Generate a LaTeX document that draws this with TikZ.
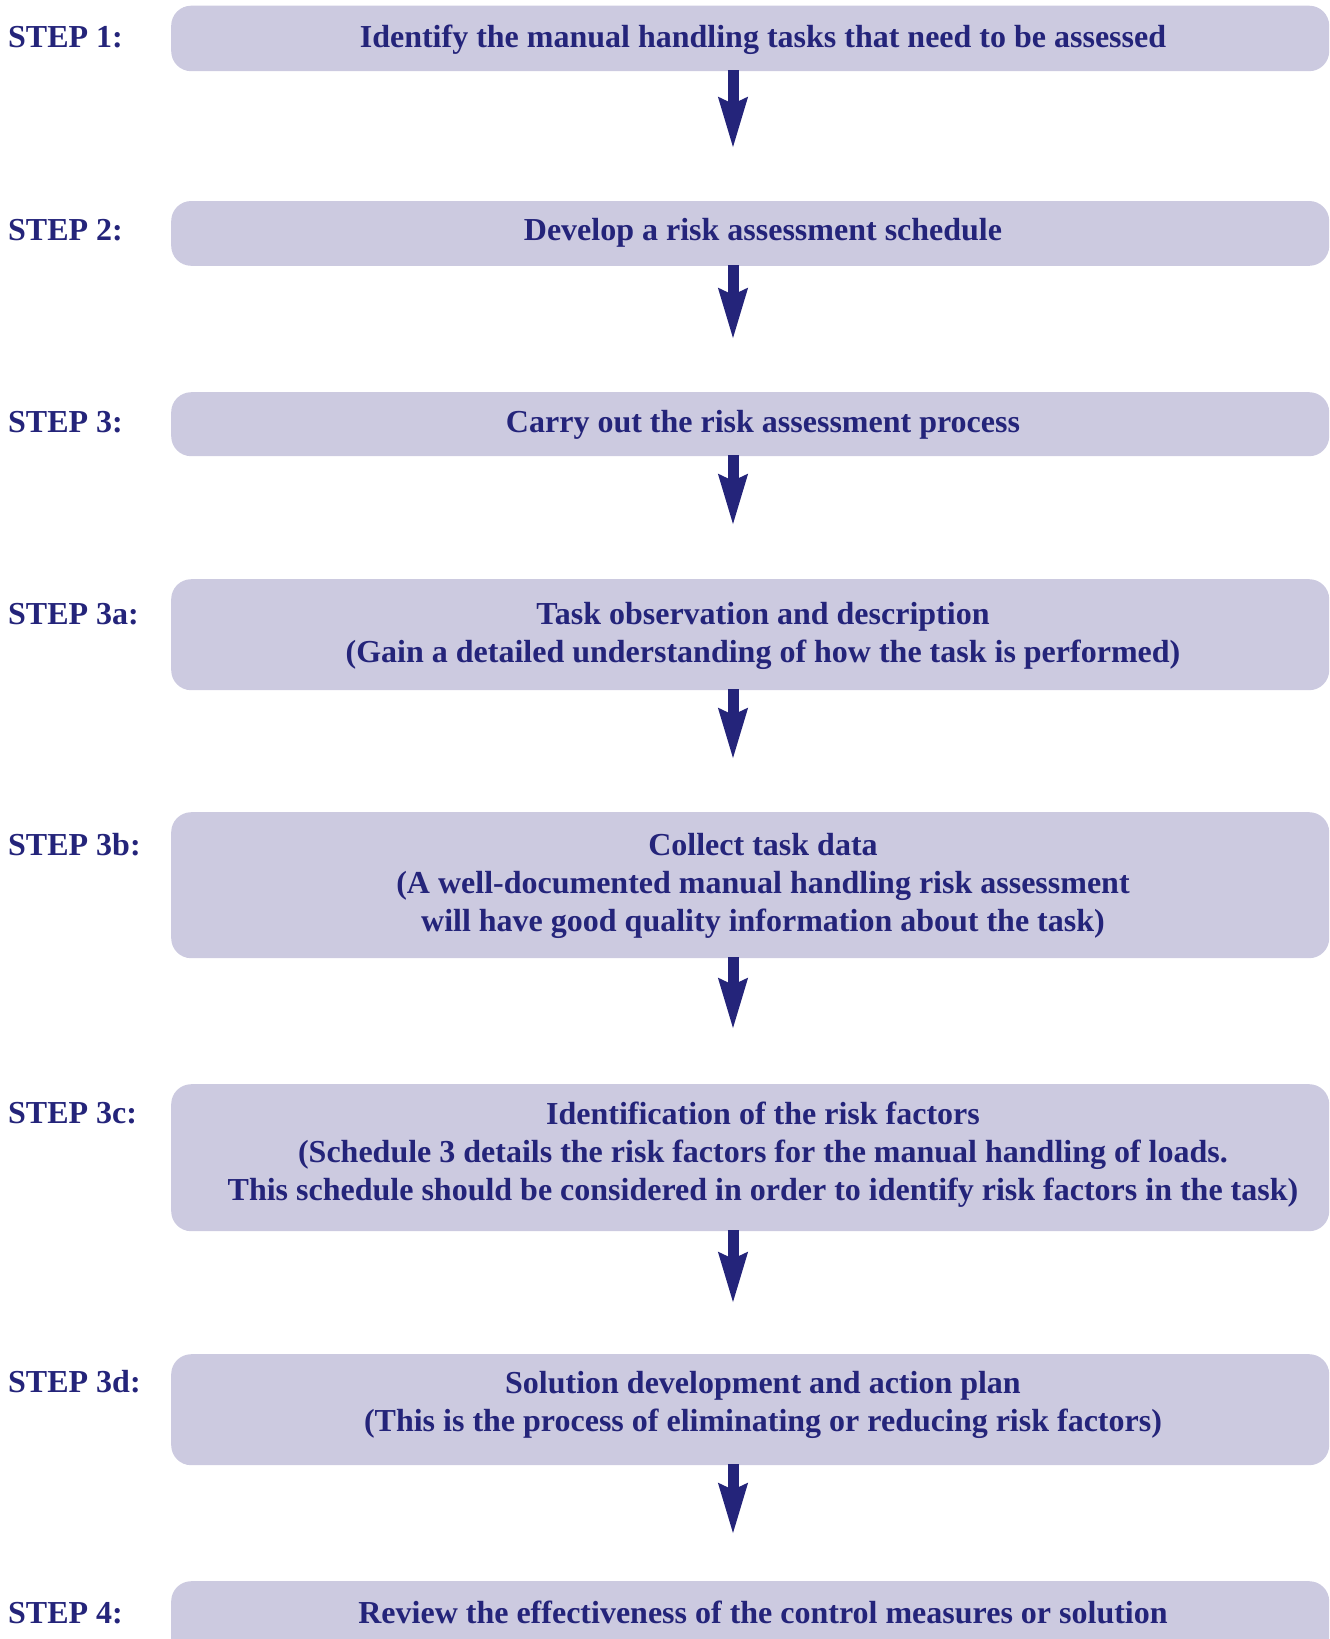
\documentclass[tikz,border=0pt]{standalone}
\usepackage{fontspec}
\setmainfont{Liberation Serif}
\usetikzlibrary{arrows.meta}
\definecolor{navy}{RGB}{36,36,122}
\definecolor{boxfill}{RGB}{204,202,224}
\tikzset{
  stepbox/.style={fill=boxfill, draw=none, rounded corners=20pt, minimum width=1158pt, inner sep=0pt, anchor=north west},
  steplabel/.style={anchor=base west, inner sep=0pt, text=navy, font=\fontsize{32}{38}\selectfont\bfseries},
  steptext/.style={anchor=base, inner sep=0pt, align=center, text=navy, font=\fontsize{32}{38}\selectfont\bfseries},
  flowarrow/.style={draw=navy, line width=11pt, -{Stealth[length=50pt, width=27pt, inset=5pt]}, shorten <=-1pt}
}
\begin{document}
\begin{tikzpicture}[x=1pt, y=-1pt]
\useasboundingbox (0,0) rectangle (1330,1639);
\clip (0,0) rectangle (1330,1639);
% boxes
\node[stepbox, minimum height=65.5pt] (b1) at (171,5.5) {};
\node[stepbox, minimum height=64.8pt] (b2) at (171,200.8) {};
\node[stepbox, minimum height=64pt] (b3) at (171,392) {};
\node[stepbox, minimum height=111pt] (b3a) at (171,579) {};
\node[stepbox, minimum height=146pt] (b3b) at (171,812) {};
\node[stepbox, minimum height=147pt] (b3c) at (171,1084) {};
\node[stepbox, minimum height=111pt] (b3d) at (171,1354) {};
\node[stepbox, minimum height=110pt] (b4) at (171,1581) {};
% labels
\node[steplabel] (l1) at (8,47) {STEP 1:};
\node[steplabel] (l2) at (8,240) {STEP 2:};
\node[steplabel] (l3) at (8,432) {STEP 3:};
\node[steplabel] (l3a) at (8,624) {STEP 3a:};
\node[steplabel] (l3b) at (8,855) {STEP 3b:};
\node[steplabel] (l3c) at (8,1123.5) {STEP 3c:};
\node[steplabel] (l3d) at (8,1392) {STEP 3d:};
\node[steplabel] (l4) at (8,1623) {STEP 4:};
% texts (base anchor = baseline of last line)
\node[steptext] (t1) at (763,47) {Identify the manual handling tasks that need to be assessed};
\node[steptext] (t2) at (763,240) {Develop a risk assessment schedule};
\node[steptext] (t3) at (763,432) {Carry out the risk assessment process};
\node[steptext] (t3a) at (763,662) {Task observation and description\\(Gain a detailed understanding of how the task is performed)};
\node[steptext] (t3b) at (763,931) {Collect task data\\(A well-documented manual handling risk assessment\\will have good quality information about the task)};
\node[steptext] (t3c) at (763,1200) {Identification of the risk factors\\(Schedule 3 details the risk factors for the manual handling of loads.\\This schedule should be considered in order to identify risk factors in the task)};
\node[steptext] (t3d) at (763,1431) {Solution development and action plan\\(This is the process of eliminating or reducing risk factors)};
\node[steptext] (t4) at (763,1623) {Review the effectiveness of the control measures or solution};
% arrow tips
\coordinate (ax) at (733,0);
\coordinate (e1) at (733,149);
\coordinate (e2) at (733,340);
\coordinate (e3) at (733,526);
\coordinate (e3a) at (733,760);
\coordinate (e3b) at (733,1030);
\coordinate (e3c) at (733,1304);
\coordinate (e3d) at (733,1535);
\draw[flowarrow] (b1.south -| ax) -- (e1);
\draw[flowarrow] (b2.south -| ax) -- (e2);
\draw[flowarrow] (b3.south -| ax) -- (e3);
\draw[flowarrow] (b3a.south -| ax) -- (e3a);
\draw[flowarrow] (b3b.south -| ax) -- (e3b);
\draw[flowarrow] (b3c.south -| ax) -- (e3c);
\draw[flowarrow] (b3d.south -| ax) -- (e3d);
\end{tikzpicture}
\end{document}
